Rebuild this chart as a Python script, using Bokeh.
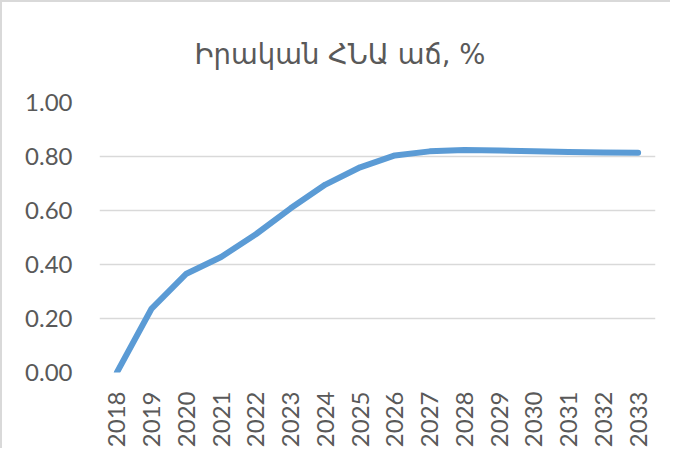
import math
from bokeh.plotting import figure
from bokeh.models import Range1d, FactorRange, FixedTicker, NumeralTickFormatter
from bokeh.embed import file_html
from bokeh.resources import INLINE

title_text = "Իրական ՀՆԱ աճ, %"
years = [str(y) for y in range(2018, 2034)]
growth = [0.000, 0.237, 0.366, 0.428, 0.512, 0.608, 0.696, 0.760,
          0.804, 0.819, 0.824, 0.822, 0.819, 0.817, 0.815, 0.814]
y_ticks = [0.0, 0.2, 0.4, 0.6, 0.8, 1.0]

p = figure(width=670, height=448,
           x_range=FactorRange(*years), y_range=Range1d(0, 1.0),
           output_backend="svg", toolbar_location=None,
           min_border_left=97, min_border_right=17,
           min_border_top=98, min_border_bottom=75)

p.title.text = title_text
p.title.text_font = "DejaVu Sans"
p.title.text_font_size = "27.5px"
p.title.text_font_style = "normal"
p.title.text_color = "#595959"
p.title.align = "left"
p.title.offset = 95
p.title.standoff = 66

p.outline_line_color = None
p.background_fill_color = "white"
p.border_fill_color = "white"
p.styles = {"border-left": "2px solid #d9d9d9", "border-top": "2px solid #d9d9d9"}

p.line(x=years, y=growth, line_width=6, line_color="#5B9BD5",
       line_cap="round", line_join="round")

p.xgrid.visible = False
p.ygrid.ticker = FixedTicker(ticks=y_ticks)
p.ygrid.grid_line_color = "#d9d9d9"
p.ygrid.grid_line_width = 1.5

p.yaxis.ticker = FixedTicker(ticks=y_ticks)
p.yaxis.formatter = NumeralTickFormatter(format="0.00")
for ax in (p.xaxis, p.yaxis):
    ax.axis_line_color = None
    ax.major_tick_line_color = None
    ax.minor_tick_line_color = None
    ax.major_label_text_font = "Lato"
    ax.major_label_text_font_size = "24px"
    ax.major_label_text_color = "#595959"
p.yaxis.major_label_standoff = 21
p.xaxis.major_label_standoff = 13
p.xaxis.major_label_orientation = math.pi / 2

open("out.html", "w").write(file_html(p, INLINE))
